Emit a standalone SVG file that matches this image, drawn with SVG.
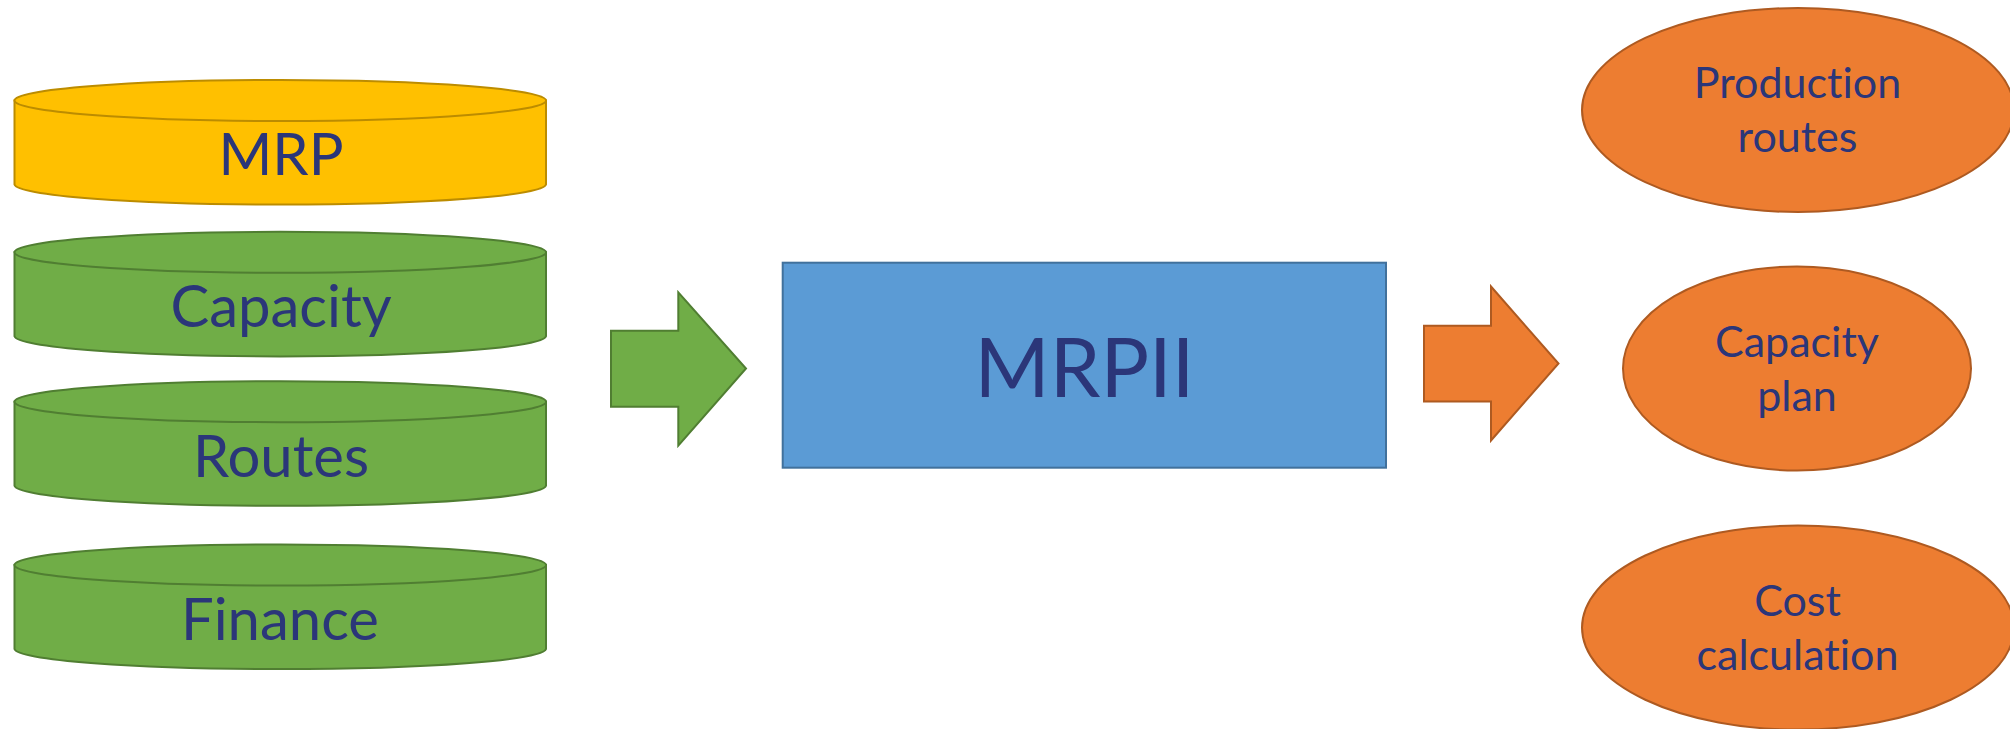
<svg xmlns="http://www.w3.org/2000/svg" width="2010" height="729" viewBox="0 0 2010 729">
  <style>
    .lbl { font-family: Lato, "Open Sans", "Liberation Sans", sans-serif; fill: #2B3679; text-anchor: middle; font-variant-ligatures: none; font-feature-settings: "liga" 0, "clig" 0, "dlig" 0; }
    .db { font-size: 58px; }
    .out { font-size: 43px; }
    .yellow { fill: #FFC000; stroke: #BC8C00; stroke-width: 2; }
    .green { fill: #70AD47; stroke: #507E32; stroke-width: 2; }
    .blue { fill: #5B9BD5; stroke: #41719C; stroke-width: 2; }
    .orange { fill: #ED7D31; stroke: #AE5A21; stroke-width: 2; }
  </style>

  <!-- input data stores (cylinders) -->
  <g id="mrp">
    <path class="yellow" d="M14.5,100.5 L14.5,184.5 A265.8,20.5 0 0 0 546,184.5 L546,100.5 Z"/>
    <ellipse class="yellow" cx="280.3" cy="100.5" rx="265.8" ry="20.5"/>
    <text class="lbl db" x="281" y="175">MRP</text>
  </g>
  <g id="capacity">
    <path class="green" d="M14.5,252.3 L14.5,336.3 A265.8,20.5 0 0 0 546,336.3 L546,252.3 Z"/>
    <ellipse class="green" cx="280.3" cy="252.3" rx="265.8" ry="20.5"/>
    <text class="lbl db" x="281" y="327">Capacity</text>
  </g>
  <g id="routes">
    <path class="green" d="M14.5,401.7 L14.5,485.7 A265.8,20.5 0 0 0 546,485.7 L546,401.7 Z"/>
    <ellipse class="green" cx="280.3" cy="401.7" rx="265.8" ry="20.5"/>
    <text class="lbl db" x="281" y="477">Routes</text>
  </g>
  <g id="finance">
    <path class="green" d="M14.5,565 L14.5,649 A265.8,20.5 0 0 0 546,649 L546,565 Z"/>
    <ellipse class="green" cx="280.3" cy="565" rx="265.8" ry="20.5"/>
    <text class="lbl db" x="280" y="639.5">Finance</text>
  </g>

  <!-- central process -->
  <g id="mrpii">
    <rect class="blue" x="782.7" y="262.7" width="603.3" height="205"/>
    <text class="lbl" x="1084.5" y="397" font-size="81">MRPII</text>
  </g>

  <!-- block arrows -->
  <g id="connectors">
    <path class="green" d="M611,330.7 L678.3,330.7 L678.3,292.3 L746,368.5 L678.3,445.7 L678.3,406.7 L611,406.7 Z"/>
    <path class="orange" d="M1424,325.8 L1491,325.8 L1491,286.5 L1558.5,363.5 L1491,440.5 L1491,401.5 L1424,401.5 Z"/>
  </g>

  <!-- outputs -->
  <g id="production-routes">
    <ellipse class="orange" cx="1798" cy="110" rx="216" ry="102"/>
    <text class="lbl out" x="1797.5" y="98">Production</text>
    <text class="lbl out" x="1797.5" y="152">routes</text>
  </g>
  <g id="capacity-plan">
    <ellipse class="orange" cx="1797" cy="368.5" rx="174" ry="102"/>
    <text class="lbl out" x="1797" y="356.5">Capacity</text>
    <text class="lbl out" x="1797" y="410.5">plan</text>
  </g>
  <g id="cost-calculation">
    <ellipse class="orange" cx="1798" cy="627.6" rx="216" ry="102"/>
    <text class="lbl out" x="1797.5" y="615.6">Cost</text>
    <text class="lbl out" x="1797.5" y="669.6">calculation</text>
  </g>
</svg>
